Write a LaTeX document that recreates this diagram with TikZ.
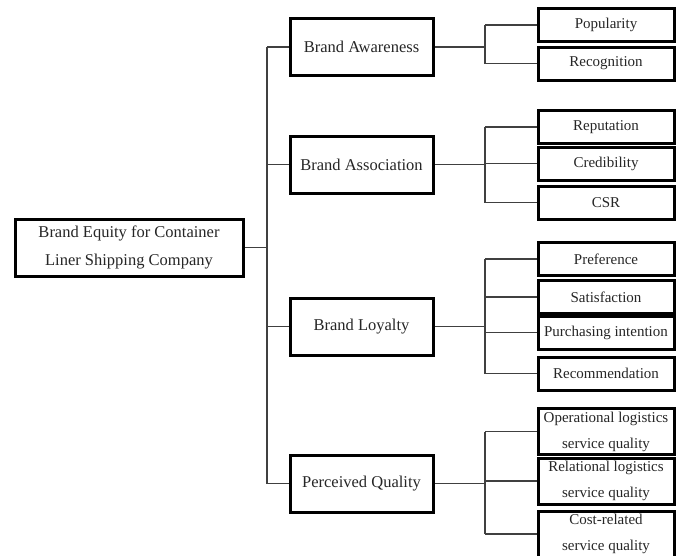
\documentclass[tikz,border=0pt]{standalone}
\usepackage{fontspec}
\setmainfont{Liberation Serif}
\begin{document}
\begin{tikzpicture}[x=1pt,y=-1pt,
  box/.style={draw=black,line width=3pt,fill=white,inner sep=0pt,align=center,text=black!85},
  rootbox/.style={box,minimum width=228pt,minimum height=57pt,font=\fontsize{16.5}{28}\selectfont},
  midbox/.style={box,minimum width=143pt,minimum height=57pt,font=\fontsize{16.5}{19}\selectfont},
  leafbox/.style={box,minimum width=136pt,minimum height=33pt,font=\fontsize{15}{17}\selectfont},
  leaftwo/.style={box,minimum width=136pt,minimum height=46pt,font=\fontsize{15}{26}\selectfont},
  link/.style={draw=black!75,line width=1.2pt}]
\useasboundingbox (0,0) rectangle (677,555);
\fill[white] (0,0) rectangle (677,555);
% nodes
\node[rootbox] (root) at (129,247.5) {Brand Equity for Container\\Liner Shipping Company};
\node[midbox] (baw) at (361.5,47) {Brand Awareness};
\node[midbox] (bas) at (361.5,164.5) {Brand Association};
\node[midbox] (blo) at (361.5,326.5) {Brand Loyalty};
\node[midbox] (pqu) at (361.5,483.5) {Perceived Quality};
\node[leafbox] (pop) at (606,25) {Popularity};
\node[leafbox] (rec) at (606,63.5) {Recognition};
\node[leafbox] (rep) at (606,127) {Reputation};
\node[leafbox] (cre) at (606,163.5) {Credibility};
\node[leafbox] (csr) at (606,202.5) {CSR};
\node[leafbox] (pre) at (606,259) {Preference};
\node[leafbox] (sat) at (606,297) {Satisfaction};
\node[leafbox] (pur) at (606,332.5) {Purchasing intention};
\node[leafbox] (rcm) at (606,373.5) {Recommendation};
\node[leaftwo] (opl) at (606,431.5) {Operational logistics\\service quality};
\node[leaftwo] (rel) at (606,481) {Relational logistics\\service quality};
\node[leaftwo] (cst) at (606,534) {Cost-related\\service quality};
% bracket coordinates
\coordinate (tk) at (267,0);
\coordinate (bk) at (485,0);
% first level
\draw[link] (root.east) -- (root.east -| tk);
\draw[link] (baw.west -| tk) -- (pqu.west -| tk);
\foreach \n in {baw,bas,blo,pqu} \draw[link] (\n.west -| tk) -- (\n.west);
% second level
\foreach \n in {baw,bas,blo,pqu} \draw[link] (\n.east) -- (\n.east -| bk);
\draw[link] (pop.west -| bk) -- (rec.west -| bk);
\draw[link] (rep.west -| bk) -- (csr.west -| bk);
\draw[link] (pre.west -| bk) -- (rcm.west -| bk);
\draw[link] (opl.west -| bk) -- (cst.west -| bk);
\foreach \n in {pop,rec,rep,cre,csr,pre,sat,pur,rcm,opl,rel,cst} \draw[link] (\n.west -| bk) -- (\n.west);
\end{tikzpicture}
\end{document}
